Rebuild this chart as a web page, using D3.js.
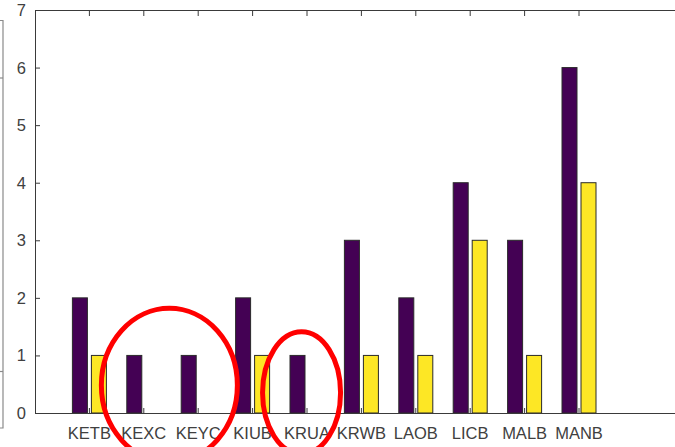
<!DOCTYPE html>
<html>
<head>
<meta charset="utf-8">
<script src="https://cdn.jsdelivr.net/npm/d3@7"></script>
<style>
  html, body { margin: 0; padding: 0; background: #fff; }
  svg { display: block; }
  text { font-family: "Liberation Sans", Arial, sans-serif; }
</style>
</head>
<body>
<svg id="chart" width="675" height="447"></svg>
<script>
// Station codes and counts for the two series
const categories = ["KETB", "KEXC", "KEYC", "KIUB", "KRUA", "KRWB", "LAOB", "LICB", "MALB", "MANB"];
const seriesA = [2, 1, 1, 2, 1, 3, 2, 4, 3, 6];
const seriesB = [1, 0, 0, 1, 0, 1, 1, 3, 1, 4];
const yTicks = [0, 1, 2, 3, 4, 5, 6, 7];
// Highlight rings: centred on a category position (index units) and a value
const highlights = [
  { at: 2.47, value: 0.48, rx: 68, ry: 77 },
  { at: 4.9, value: 0.35, rx: 39, ry: 61 }
];

const colors = ["#440154", "#fde725"];
const axisColor = "#3a3a3a";
const textColor = "#404040";

const svg = d3.select("#chart");

const plotLeft = 35, plotTop = 10, plotBottom = 413;
const step = 54.4;

// x in category-index units (1..n), y in counts
const x = d3.scaleLinear().domain([0, 12]).range([plotLeft, plotLeft + 12 * step]);
const y = d3.scaleLinear().domain([0, 7]).range([plotBottom, plotTop]);

const barW = 15;
const offsets = [-9.5, 9.5];

// Fragment of a neighbouring panel at the far left
const frag = svg.append("g").attr("stroke", "#8a8a8a").attr("stroke-width", 1.2).attr("fill", "none");
frag.append("path").attr("d", "M0,20.5 H3 V428 H0");
frag.append("line").attr("x1", 0).attr("x2", 3).attr("y1", 78).attr("y2", 78);
frag.append("line").attr("x1", 0).attr("x2", 3).attr("y1", 371.5).attr("y2", 371.5);

// Bars
const series = [seriesA, seriesB];
series.forEach((vals, s) => {
  svg.append("g").selectAll("rect")
    .data(vals.map((v, i) => ({ v, i })).filter(d => d.v > 0))
    .join("rect")
    .attr("x", d => x(d.i + 1) + offsets[s] - barW / 2)
    .attr("width", barW)
    .attr("y", d => y(d.v))
    .attr("height", d => y(0) - y(d.v))
    .attr("fill", colors[s])
    .attr("stroke", "#2a2a2a")
    .attr("stroke-width", 1);
});

// Axes box (left, bottom, top; the right side runs past the window)
const axes = svg.append("g").attr("stroke", axisColor).attr("stroke-width", 1).attr("fill", "none");
axes.append("path").attr("d", `M${x(12)},${y(7) + 0.5} H${plotLeft + 0.5} V${plotBottom + 0.5} H${x(12)}`);

// Inward tick marks
const catIdx = categories.map((c, i) => i + 1);
axes.append("g").selectAll("line").data(catIdx).join("line")
  .attr("x1", d => x(d)).attr("x2", d => x(d))
  .attr("y1", plotBottom).attr("y2", plotBottom - 5);
axes.append("g").selectAll("line").data(catIdx).join("line")
  .attr("x1", d => x(d)).attr("x2", d => x(d))
  .attr("y1", y(7)).attr("y2", y(7) + 6);
axes.append("g").selectAll("line").data(yTicks).join("line")
  .attr("x1", plotLeft).attr("x2", plotLeft + 5)
  .attr("y1", d => y(d) + 0.5).attr("y2", d => y(d) + 0.5);

// Tick labels
svg.append("g").selectAll("text").data(yTicks).join("text")
  .attr("x", 26).attr("y", d => y(d)).attr("dy", "0.36em")
  .attr("text-anchor", "end").attr("font-size", 16.5).attr("fill", textColor)
  .text(d => d);

svg.append("g").selectAll("text").data(categories).join("text")
  .attr("x", (d, i) => x(i + 1)).attr("y", 439)
  .attr("text-anchor", "middle").attr("font-size", 16.5).attr("fill", textColor)
  .text(d => d);

// Red highlight rings
svg.append("g").selectAll("ellipse").data(highlights).join("ellipse")
  .attr("cx", d => x(d.at))
  .attr("cy", d => y(d.value))
  .attr("rx", d => d.rx).attr("ry", d => d.ry)
  .attr("fill", "none").attr("stroke", "#ff0000").attr("stroke-width", 5);
</script>
</body>
</html>
